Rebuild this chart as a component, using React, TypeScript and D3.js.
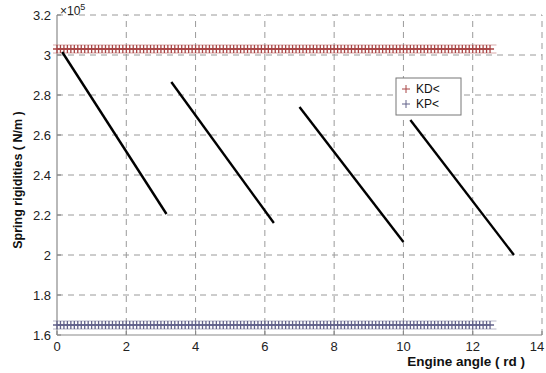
import * as d3 from 'd3';
import React from 'react';

// values (y in units of 1e5 N/m)
const xTicks = [0, 2, 4, 6, 8, 10, 12, 14];
const yTicks = [1.6, 1.8, 2, 2.2, 2.4, 2.6, 2.8, 3, 3.2];

const kdLevel = 3.03;
const kpLevel = 1.65;
const angleStart = 0;
const angleEnd = 12.57;
const angleStep = 0.1;

// the four decreasing black segments
const segStartAngle = [0.15, 3.3, 7.0, 10.2];
const segStartValue = [3.015, 2.865, 2.74, 2.675];
const segEndAngle = [3.16, 6.26, 10.0, 13.19];
const segEndValue = [2.205, 2.16, 2.065, 2.0];

const legendLabels = ['KD<', 'KP<'];

const W = 546;
const H = 373;
const m = { left: 57, right: 4, top: 15, bottom: 38 };

const App: React.FC = () => {
    const x = d3.scaleLinear().domain([0, 14]).range([m.left, W - m.right]);
    const y = d3.scaleLinear().domain([1.6, 3.2]).range([H - m.bottom, m.top]);

    const angles = d3.range(angleStart, angleEnd + 1e-9, angleStep);
    const line = d3
        .line<[number, number]>()
        .x((d) => x(d[0]))
        .y((d) => y(d[1]));

    const font = 'Arial, "Liberation Sans", sans-serif';
    const gridColor = '#9a9a9a';
    const kdColor = '#a84444';
    const kpColor = '#62628a';

    const plus = (cx: number, cy: number, s: number, color: string, w: number, key: React.Key) => (
        <path
            key={key}
            d={`M${cx - s},${cy}H${cx + s}M${cx},${cy - s}V${cy + s}`}
            stroke={color}
            strokeWidth={w}
            fill="none"
        />
    );

    const lx = 396;
    const ly = 78;

    return (
        <svg
            width={W}
            height={H}
            style={{ position: 'absolute', left: 0, top: 0, background: '#fff' }}
            fontFamily={font}
        >
            {/* grid */}
            <g stroke={gridColor} strokeWidth={1} strokeDasharray="6,5">
                {xTicks.slice(1).map((t) => (
                    <line key={'gx' + t} x1={x(t)} x2={x(t)} y1={y(1.6)} y2={y(3.2)} />
                ))}
                {yTicks.slice(1).map((t) => (
                    <line key={'gy' + t} x1={x(0)} x2={x(14)} y1={y(t)} y2={y(t)} />
                ))}
            </g>

            {/* axes */}
            <g stroke="#8a8a8a" strokeWidth={1.2}>
                <line x1={x(0)} x2={x(0)} y1={y(1.6)} y2={y(3.2)} />
                <line x1={x(0)} x2={x(14)} y1={y(1.6)} y2={y(1.6)} />
                {xTicks.map((t) => (
                    <line key={'tx' + t} x1={x(t)} x2={x(t)} y1={y(1.6)} y2={y(1.6) - 4} />
                ))}
                {yTicks.map((t) => (
                    <line key={'ty' + t} x1={x(0)} x2={x(0) + 4} y1={y(t)} y2={y(t)} />
                ))}
            </g>

            {/* KD and KP constant series */}
            {[
                { v: kdLevel, c: kdColor },
                { v: kpLevel, c: kpColor },
            ].map((s, si) => (
                <g key={'s' + si}>
                    <path
                        d={line(angles.map((a) => [a, s.v] as [number, number])) ?? ''}
                        stroke={s.c}
                        strokeWidth={1.2}
                        fill="none"
                    />
                    {angles.map((a, i) => plus(x(a), y(s.v), 4, s.c, 1.3, i))}
                    <path
                        d={`M${x(angleStart) - 4},${y(s.v) - 4}H${x(angleEnd) + 4}M${x(angleStart) - 4},${y(s.v) + 4}H${x(angleEnd) + 4}`}
                        stroke={s.c}
                        strokeWidth={0.8}
                        strokeOpacity={0.6}
                        fill="none"
                    />
                </g>
            ))}

            {/* black segments */}
            {segStartAngle.map((a, i) => (
                <path
                    key={'seg' + i}
                    d={
                        line([
                            [a, segStartValue[i]],
                            [segEndAngle[i], segEndValue[i]],
                        ]) ?? ''
                    }
                    stroke="#000"
                    strokeWidth={2.4}
                    fill="none"
                />
            ))}

            {/* tick labels */}
            <g fontSize={13} fill="#222">
                {yTicks.map((t) => (
                    <text key={'ly' + t} x={x(0) - 6} y={y(t)} dy="0.35em" textAnchor="end">
                        {d3.format('~g')(t)}
                    </text>
                ))}
                {xTicks.map((t) => (
                    <text key={'lx' + t} x={Math.min(x(t), W - 9)} y={y(1.6) + 16} textAnchor="middle">
                        {t}
                    </text>
                ))}
                <text x={60} y={15} fontSize={12}>
                    ×10
                    <tspan dy={-5} fontSize={9}>
                        5
                    </tspan>
                </text>
            </g>

            {/* axis titles */}
            <text
                x={525}
                y={366}
                textAnchor="end"
                fontSize={13.5}
                fontWeight="bold"
                fill="#111"
            >
                Engine angle ( rd )
            </text>
            <text
                transform={`translate(22,${180}) rotate(-90)`}
                textAnchor="middle"
                fontSize={12.5}
                fontWeight="bold"
                fill="#111"
            >
                Spring rigidities ( N/m )
            </text>

            {/* legend */}
            <rect x={lx} y={ly} width={65} height={37} fill="#fff" stroke="#777" strokeWidth={1} />
            {legendLabels.map((lab, i) => (
                <g key={'lg' + i}>
                    {plus(lx + 10, ly + 11 + i * 15, 4, i === 0 ? kdColor : kpColor, 1, 'p' + i)}
                    <text x={lx + 20} y={ly + 11 + i * 15} dy="0.35em" fontSize={12} fill="#111">
                        {lab}
                    </text>
                </g>
            ))}
        </svg>
    );
};

export default App;
